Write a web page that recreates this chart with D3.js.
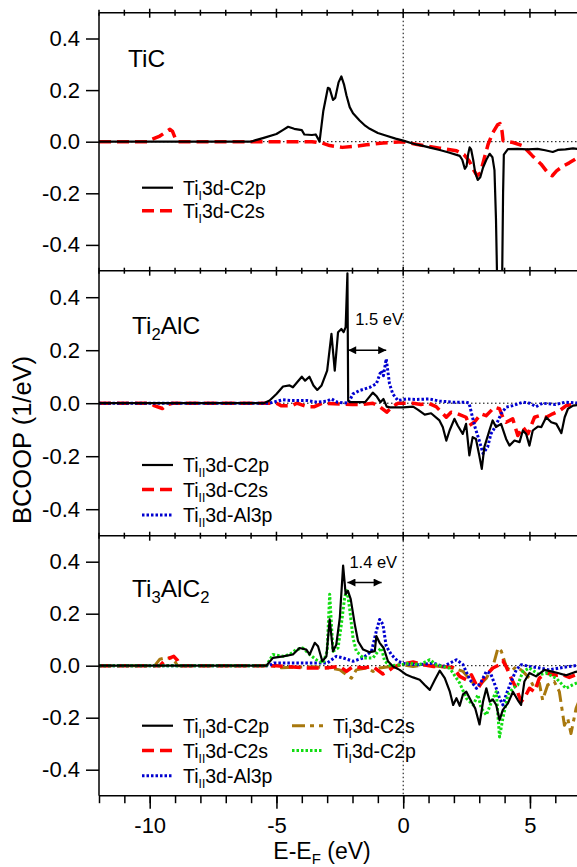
<!DOCTYPE html>
<html><head><meta charset="utf-8">
<script src="https://cdn.jsdelivr.net/npm/d3@7"></script>
<style>body{margin:0;background:#fff} text{font-family:"Liberation Sans",Arial,Helvetica,sans-serif;fill:#000}</style>
</head><body><svg id="c" width="577" height="867"></svg>
<script>
// ---------- data ----------
const xMajorTicks = [-10, -5, 0, 5];
const xMinorTicks = [-12,-11,-10,-9,-8,-7,-6,-5,-4,-3,-2,-1,0,1,2,3,4,5,6,7];
const yTicks = [-0.4, -0.2, 0.0, 0.2, 0.4];

// Panel 1: TiC
const tic_TiI3d_C2p = [[-12,0],[-6.0,0],[-5.85,0.005],[-5.5,0.015],[-5.0,0.03],[-4.75,0.045],[-4.54,0.058],[-4.3,0.05],[-4.0,0.045],[-3.9,0.028],[-3.6,0.026],[-3.45,0.028],[-3.36,0.012],[-3.3,0.0],[-3.15,0.12],[-2.97,0.209],[-2.9,0.205],[-2.77,0.162],[-2.68,0.17],[-2.55,0.23],[-2.44,0.253],[-2.33,0.22],[-2.24,0.18],[-2.11,0.134],[-1.98,0.11],[-1.72,0.082],[-1.5,0.062],[-1.32,0.05],[-1.0,0.034],[-0.66,0.023],[-0.3,0.012],[0,0.004],[0.4,-0.008],[0.78,-0.016],[1.1,-0.024],[1.44,-0.032],[1.8,-0.042],[2.23,-0.055],[2.33,-0.07],[2.43,-0.105],[2.5,-0.095],[2.56,-0.05],[2.62,-0.022],[2.68,-0.03],[2.76,-0.07],[2.84,-0.12],[2.94,-0.148],[3.04,-0.138],[3.15,-0.1],[3.28,-0.07],[3.41,-0.047],[3.52,-0.06],[3.6,-0.11],[3.66,-0.3],[3.71,-0.56],[3.9,-0.56],[3.94,-0.2],[3.97,-0.05],[4.13,-0.029],[4.5,-0.028],[4.9,-0.03],[5.3,-0.028],[5.6,-0.033],[5.9,-0.04],[6.1,-0.032],[6.4,-0.03],[6.7,-0.026],[7,-0.03]];
const tic_TiI3d_C2s = [[-12,0],[-10.1,0],[-9.9,0.01],[-9.6,0.022],[-9.4,0.035],[-9.2,0.048],[-9.1,0.04],[-9.0,0.015],[-8.9,0],[-3.6,0],[-3.2,-0.005],[-2.9,-0.015],[-2.4,-0.022],[-1.9,-0.018],[-1.45,-0.012],[-0.8,-0.005],[0,0],[0.5,-0.01],[0.91,-0.017],[1.44,-0.025],[2.1,-0.035],[2.4,-0.05],[2.6,-0.074],[2.78,-0.11],[2.92,-0.132],[3.05,-0.12],[3.21,-0.06],[3.35,-0.01],[3.54,0.036],[3.72,0.065],[3.82,0.07],[3.9,0.04],[3.94,0.004],[4.33,-0.003],[4.72,-0.016],[5.1,-0.055],[5.44,-0.087],[5.7,-0.12],[5.88,-0.132],[6.05,-0.113],[6.3,-0.095],[6.55,-0.082],[6.8,-0.067],[7,-0.06]];

// Panel 2: Ti2AlC
const ti2_TiII3d_C2p = [[-12,0],[-5.5,0],[-5.27,0.01],[-5.0,0.035],[-4.74,0.063],[-4.48,0.067],[-4.35,0.06],[-4.0,0.1],[-3.87,0.085],[-3.7,0.1],[-3.54,0.067],[-3.39,0.05],[-3.22,0.067],[-3.0,0.123],[-2.83,0.262],[-2.7,0.123],[-2.57,0.268],[-2.44,0.28],[-2.35,0.268],[-2.27,0.287],[-2.2,0.49],[-2.17,0.01],[-2.1,0.004],[-1.5,0.004],[-1.2,0.04],[-1.04,0.025],[-0.9,0.004],[-0.78,0.016],[-0.65,-0.013],[-0.52,-0.016],[-0.26,-0.016],[0,-0.016],[0.39,-0.013],[0.59,-0.025],[0.85,-0.043],[1.1,-0.038],[1.43,-0.065],[1.56,-0.09],[1.7,-0.141],[1.83,-0.103],[2.02,-0.059],[2.15,-0.084],[2.35,-0.116],[2.48,-0.078],[2.61,-0.197],[2.74,-0.128],[2.87,-0.135],[3.0,-0.197],[3.1,-0.248],[3.2,-0.166],[3.4,-0.103],[3.53,-0.065],[3.66,-0.09],[3.86,-0.078],[4.06,-0.135],[4.19,-0.16],[4.39,-0.141],[4.59,-0.147],[4.72,-0.103],[4.85,-0.116],[4.98,-0.16],[5.11,-0.103],[5.31,-0.088],[5.45,-0.09],[5.64,-0.053],[5.84,-0.072],[6.04,-0.078],[6.24,-0.113],[6.37,-0.053],[6.5,-0.021],[6.7,-0.009],[7,-0.005]];
const ti2_TiII3d_C2s = [[-12,0],[-10,0],[-9.8,-0.01],[-9.5,-0.02],[-9.3,-0.005],[-9.1,0],[-5,0],[-4.8,-0.01],[-4.4,-0.01],[-4.2,0],[-3.8,-0.013],[-3.5,-0.013],[-3.2,0],[-2.0,-0.005],[-1.6,-0.005],[-1.2,0],[-0.9,-0.015],[-0.65,-0.034],[-0.46,-0.015],[-0.2,0],[0.39,0],[0.7,-0.005],[1.0,0],[1.3,-0.013],[1.7,-0.053],[1.89,-0.034],[2.15,-0.04],[2.48,-0.053],[2.61,-0.084],[2.8,-0.072],[3.07,-0.04],[3.27,-0.047],[3.6,-0.015],[3.8,-0.021],[3.93,-0.053],[4.06,-0.072],[4.32,-0.059],[4.52,-0.122],[4.72,-0.09],[4.92,-0.116],[5.18,-0.053],[5.38,-0.047],[5.64,-0.053],[5.9,-0.04],[6.17,-0.028],[6.43,-0.009],[7,0]];
const ti2_TiII3d_Al3p = [[-12,0],[-5.3,0],[-4.74,0.013],[-4.4,0.01],[-4.0,0.01],[-3.8,0.01],[-3.4,0.004],[-3.0,0.008],[-2.83,0.016],[-2.6,0.004],[-2.17,0],[-1.98,0.035],[-1.72,0.048],[-1.32,0.06],[-1.06,0.073],[-0.87,0.123],[-0.78,0.104],[-0.67,0.167],[-0.54,0.073],[-0.41,0.035],[-0.21,0.01],[0.13,0.016],[0.5,0.014],[1.04,0.016],[1.43,0.008],[1.96,0.004],[2.48,0.004],[2.6,0],[2.7,-0.04],[2.83,-0.09],[3.0,-0.141],[3.15,-0.19],[3.33,-0.166],[3.46,-0.116],[3.66,-0.084],[3.86,-0.04],[4.06,-0.015],[4.32,-0.009],[4.72,0.004],[5.0,0],[5.24,-0.013],[5.5,0],[6.0,-0.005],[6.4,0.004],[7,0]];

// Panel 3: Ti3AlC2
const ti3_TiII3d_C2p = [[-12,0],[-5.4,0],[-5.14,0.03],[-4.74,0.036],[-4.35,0.043],[-4.09,0.068],[-3.82,0.062],[-3.69,0.043],[-3.49,0.088],[-3.36,0.075],[-3.19,0.017],[-3.03,0.036],[-2.9,0.178],[-2.77,0.056],[-2.64,0.081],[-2.5,0.185],[-2.37,0.385],[-2.27,0.275],[-2.18,0.288],[-2.07,0.256],[-1.91,0.159],[-1.78,0.094],[-1.58,0.062],[-1.32,0.052],[-1.12,0.056],[-1.06,0.114],[-0.93,0.088],[-0.77,0.068],[-0.6,0.017],[-0.4,-0.003],[-0.14,-0.016],[0.13,-0.035],[0.39,-0.045],[0.65,-0.054],[0.85,-0.074],[1.05,-0.093],[1.25,-0.054],[1.44,-0.019],[1.64,-0.048],[1.84,-0.1],[1.97,-0.151],[2.1,-0.125],[2.23,-0.154],[2.36,-0.11],[2.49,-0.1],[2.69,-0.138],[2.84,-0.164],[3.01,-0.226],[3.15,-0.138],[3.28,-0.087],[3.41,-0.138],[3.54,-0.13],[3.67,-0.151],[3.8,-0.209],[3.93,-0.17],[4.13,-0.145],[4.33,-0.1],[4.52,-0.132],[4.65,-0.151],[4.78,-0.061],[4.98,-0.028],[5.24,-0.041],[5.57,-0.016],[5.83,-0.022],[6.1,-0.028],[6.43,-0.037],[6.76,-0.025],[7,-0.02]];
const ti3_TiII3d_C2s = [[-12,0],[-9.6,0],[-9.4,0.02],[-9.2,0.03],[-9.05,0.036],[-8.9,0.02],[-8.8,0],[-5,0],[-4.5,-0.004],[-3.82,-0.009],[-3.1,-0.009],[-2.5,-0.003],[-2.24,-0.022],[-1.98,-0.003],[-1.58,-0.009],[-1.2,-0.003],[-0.8,-0.032],[-0.6,-0.022],[-0.4,-0.006],[-0.1,0.004],[0.39,0.014],[0.78,0.004],[1.2,-0.003],[1.57,-0.003],[1.97,-0.007],[2.23,-0.041],[2.49,-0.054],[2.69,-0.035],[2.95,-0.087],[3.28,-0.035],[3.54,-0.009],[3.8,0.004],[3.93,0.019],[4.06,-0.003],[4.26,-0.048],[4.46,-0.087],[4.65,-0.138],[4.78,-0.125],[4.98,-0.087],[5.18,-0.1],[5.37,-0.048],[5.63,-0.028],[6.03,-0.037],[6.29,-0.035],[6.55,-0.045],[6.8,-0.035],[7,-0.03]];
const ti3_TiII3d_Al3p = [[-12,0],[-5.3,0],[-5.1,0.01],[-3.0,0.01],[-2.9,0.017],[-2.64,0.036],[-2.37,0.03],[-1.98,0.017],[-1.58,0.03],[-1.25,0.056],[-1.06,0.133],[-0.93,0.178],[-0.8,0.159],[-0.67,0.075],[-0.47,0.043],[-0.21,0.017],[0.1,0.006],[0.65,0.004],[1.18,0.01],[1.57,-0.003],[1.84,0.01],[2.1,0.023],[2.36,0.004],[2.63,-0.054],[2.89,-0.087],[3.08,-0.061],[3.28,-0.022],[3.45,-0.03],[3.67,-0.087],[3.8,-0.125],[3.93,-0.151],[4.06,-0.112],[4.26,-0.061],[4.46,-0.016],[4.65,0.004],[5.0,-0.003],[5.37,-0.009],[5.76,-0.016],[6.16,-0.009],[6.55,-0.003],[7,0.003]];
const ti3_TiI3d_C2s = [[-12,0],[-9.8,0],[-9.6,0.025],[-9.4,0.03],[-9.1,0.03],[-9.0,0.015],[-8.9,0],[-5.2,0],[-4.8,-0.008],[-4.3,-0.006],[-3.5,-0.004],[-2.9,-0.009],[-2.5,-0.016],[-2.24,-0.035],[-2.04,-0.048],[-1.85,-0.016],[-1.45,-0.009],[-1.19,-0.022],[-0.93,-0.009],[-0.5,-0.003],[-0.1,0.004],[0.39,-0.003],[0.9,0.004],[1.44,-0.003],[1.97,-0.009],[2.36,-0.022],[2.76,-0.067],[3.02,-0.074],[3.28,-0.048],[3.54,-0.003],[3.74,0.068],[3.87,0.056],[4.06,-0.003],[4.26,-0.022],[4.46,-0.003],[4.72,-0.022],[4.98,-0.048],[5.18,-0.087],[5.37,-0.067],[5.5,-0.132],[5.7,-0.074],[5.96,-0.061],[6.16,-0.1],[6.36,-0.229],[6.49,-0.203],[6.62,-0.261],[6.82,-0.164],[7,-0.12]];
const ti3_TiI3d_C2p = [[-12,0],[-5.4,0],[-5.14,0.043],[-4.74,0.036],[-4.48,0.043],[-4.22,0.062],[-3.96,0.068],[-3.69,0.043],[-3.43,0.023],[-3.16,0.01],[-3.0,0.056],[-2.9,0.275],[-2.77,0.056],[-2.57,0.068],[-2.44,0.159],[-2.31,0.262],[-2.22,0.295],[-2.11,0.217],[-1.98,0.107],[-1.85,0.056],[-1.58,0.03],[-1.19,0.03],[-0.99,0.056],[-0.86,0.068],[-0.73,0.017],[-0.5,0],[-0.1,0.003],[0.26,0.01],[0.65,0.004],[1.05,0.023],[1.3,0.004],[1.57,-0.003],[1.84,-0.01],[2.23,-0.067],[2.49,-0.125],[2.76,-0.151],[2.95,-0.112],[3.08,-0.164],[3.28,-0.19],[3.54,-0.125],[3.67,-0.1],[3.8,-0.274],[3.93,-0.203],[4.13,-0.112],[4.33,-0.087],[4.52,-0.074],[4.72,-0.022],[4.98,-0.009],[5.37,-0.035],[5.63,-0.028],[6.03,-0.048],[6.42,-0.087],[6.68,-0.074],[7,-0.06]];

// annotations: [x1, x2, yArrow, label]
const gap2 = [-2.17, -0.67, 0.2, "1.5 eV"];
const gap3 = [-2.2, -0.85, 0.32, "1.4 eV"];

// ---------- styles ----------
const ST = {
  blackSolid: {color:"#000", w:2.2, dash:null},
  redDash:   {color:"#ff0000", w:3.5, dash:"12,6"},
  blueDot:   {color:"#0000d0", w:3, dash:"2.5,2"},
  brownDD:   {color:"#a8780e", w:3, dash:"13,5,4,5"},
  greenDot:  {color:"#11dd11", w:3, dash:"2.5,2"}
};

const panels = [
  { title:[["Ti",0],["C",0]], tx:128, tb:66.7,
    series:[
      {data:tic_TiI3d_C2s, st:ST.redDash},
      {data:tic_TiI3d_C2p, st:ST.blackSolid}],
    legend:[
      {st:ST.blackSolid, lab:["Ti","I","3d-C2p"], col:0, row:0},
      {st:ST.redDash, lab:["Ti","I","3d-C2s"], col:0, row:1}],
    legY:[187.7,210.7] },
  { title:[["Ti",0],["2",1],["AlC",0]], tx:132, tb:334,
    series:[
      {data:ti2_TiII3d_C2s, st:ST.redDash},
      {data:ti2_TiII3d_Al3p, st:ST.blueDot},
      {data:ti2_TiII3d_C2p, st:ST.blackSolid}],
    legend:[
      {st:ST.blackSolid, lab:["Ti","II","3d-C2p"], col:0, row:0},
      {st:ST.redDash, lab:["Ti","II","3d-C2s"], col:0, row:1},
      {st:ST.blueDot, lab:["Ti","II","3d-Al3p"], col:0, row:2}],
    legY:[465,489.5,515], gap:gap2, gapDx:7, gapDy:-25 },
  { title:[["Ti",0],["3",1],["AlC",0],["2",1]], tx:132, tb:596.5,
    series:[
      {data:ti3_TiI3d_C2s, st:ST.brownDD},
      {data:ti3_TiII3d_C2s, st:ST.redDash},
      {data:ti3_TiII3d_Al3p, st:ST.blueDot},
      {data:ti3_TiI3d_C2p, st:ST.greenDot},
      {data:ti3_TiII3d_C2p, st:ST.blackSolid}],
    legend:[
      {st:ST.blackSolid, lab:["Ti","II","3d-C2p"], col:0, row:0},
      {st:ST.redDash, lab:["Ti","II","3d-C2s"], col:0, row:1},
      {st:ST.blueDot, lab:["Ti","II","3d-Al3p"], col:0, row:2},
      {st:ST.brownDD, lab:["Ti","I","3d-C2s"], col:1, row:0},
      {st:ST.greenDot, lab:["Ti","I","3d-C2p"], col:1, row:1}],
    legY:[725.7,750.5,775.7], gap:gap3, gapDx:2, gapDy:-15 }
];

// ---------- layout ----------
const svg = d3.select("#c");
const L = 99, R = 580.65;
const x = d3.scaleLinear().domain([-12, 7]).range([L, R]);
const pTop = [12.7, 270.7, 535.7], pBot = [270.7, 535.7, 795.7];
const ys = pTop.map((t,i) => d3.scaleLinear().domain([-0.5, 0.5]).range([pBot[i], t]));

const defs = svg.append("defs");
defs.append("marker").attr("id","ah").attr("viewBox","0 0 10 10").attr("refX",10).attr("refY",5)
  .attr("markerWidth",10).attr("markerHeight",8).attr("markerUnits","userSpaceOnUse").attr("orient","auto-start-reverse")
  .append("path").attr("d","M0,0 L10,5 L0,10 z").attr("fill","#000");

const TICKFS = 22, LEGFS = 19.5, TITLEFS = 24.5;

panels.forEach((p, i) => {
  const y = ys[i];
  const g = svg.append("g");
  const cid = "clip" + i;
  defs.append("clipPath").attr("id", cid).append("rect")
    .attr("x", L).attr("y", pTop[i]).attr("width", R - L).attr("height", pBot[i] - pTop[i]);

  // zero dotted line
  g.append("line").attr("x1", L).attr("x2", R).attr("y1", y(0)).attr("y2", y(0))
    .attr("stroke", "#000").attr("stroke-width", 1).attr("stroke-dasharray", "1.5,2.5");

  // series
  const line = d3.line().x(d => x(d[0])).y(d => y(d[1]));
  const sg = g.append("g").attr("clip-path", `url(#${cid})`);
  p.series.forEach(s => {
    sg.append("path").attr("d", line(s.data)).attr("fill", "none")
      .attr("stroke", s.st.color).attr("stroke-width", s.st.w)
      .attr("stroke-linejoin", "round")
      .attr("stroke-dasharray", s.st.dash);
  });

  // left axis
  const ax = g.append("g").attr("transform", `translate(${L},0)`)
    .call(d3.axisLeft(y).tickValues(yTicks).tickSize(13).tickSizeOuter(0).tickPadding(6)
      .tickFormat(d => d.toFixed(1)));
  ax.select(".domain").remove();
  ax.selectAll("line").attr("stroke-width", 1.5);
  ax.selectAll("text").attr("font-size", TICKFS).attr("font-family", null);

  // title
  const t = g.append("text").attr("x", p.tx).attr("y", p.tb).attr("font-size", TITLEFS);
  p.title.forEach(([s, sub], k) => {
    const prev = k > 0 ? p.title[k-1][1] : 0;
    const ts = t.append("tspan").text(s);
    if (sub && !prev) ts.attr("dy", 6).attr("font-size", TITLEFS * 0.68);
    else if (!sub && prev) ts.attr("dy", -6);
  });

  // legend
  p.legend.forEach(e => {
    const ly = p.legY[e.row];
    const x0 = e.col === 0 ? 142 : 292;
    g.append("line").attr("x1", x0).attr("x2", x0 + 31).attr("y1", ly).attr("y2", ly)
      .attr("stroke", e.st.color).attr("stroke-width", e.st.w).attr("stroke-dasharray", e.st.dash);
    const tx = g.append("text").attr("x", x0 + 41).attr("y", ly + 7).attr("font-size", LEGFS);
    tx.append("tspan").text(e.lab[0]);
    tx.append("tspan").text(e.lab[1]).attr("dy", 5).attr("font-size", LEGFS * 0.62);
    tx.append("tspan").text(e.lab[2]).attr("dy", -5);
  });

  // gap annotation
  if (p.gap) {
    const [a, b, yy, lab] = p.gap;
    g.append("line").attr("x1", x(a)).attr("x2", x(b)).attr("y1", y(yy)).attr("y2", y(yy))
      .attr("stroke", "#000").attr("stroke-width", 1.5)
      .attr("marker-start", "url(#ah)").attr("marker-end", "url(#ah)");
    g.append("text").attr("x", x(a) + p.gapDx).attr("y", y(yy) + p.gapDy).attr("font-size", 16.5).text(lab);
  }
});

// vertical dotted line at E_F
svg.append("line").attr("x1", x(0)).attr("x2", x(0)).attr("y1", pTop[0]).attr("y2", pBot[2])
  .attr("stroke", "#000").attr("stroke-width", 1).attr("stroke-dasharray", "1.5,2.5");

// frame
const fr = svg.append("g").attr("stroke", "#000").attr("stroke-width", 1.5);
fr.append("line").attr("x1", L).attr("x2", L).attr("y1", pTop[0]).attr("y2", pBot[2]);
fr.append("line").attr("x1", R).attr("x2", R).attr("y1", pTop[0]).attr("y2", pBot[2]);
[pTop[0], pTop[1], pTop[2], pBot[2]].forEach(yy =>
  fr.append("line").attr("x1", L).attr("x2", R).attr("y1", yy).attr("y2", yy));

// crossing ticks on top / inter-panel boundaries
[pTop[0], pTop[1], pTop[2]].forEach(yy => {
  xMinorTicks.forEach(v => {
    const maj = xMajorTicks.includes(v);
    fr.append("line").attr("x1", x(v)).attr("x2", x(v))
      .attr("y1", yy - (maj ? 4 : 3)).attr("y2", yy + (maj ? 5 : 3));
  });
});

// bottom axis
const bx = svg.append("g").attr("transform", `translate(0,${pBot[2]})`);
bx.call(d3.axisBottom(x).tickValues(xMinorTicks).tickSize(7.5).tickSizeOuter(0).tickFormat(""));
const bxM = svg.append("g").attr("transform", `translate(0,${pBot[2]})`)
  .call(d3.axisBottom(x).tickValues(xMajorTicks).tickSize(13).tickSizeOuter(0).tickPadding(9).tickFormat(d => String(d)));
[bx, bxM].forEach(a => { a.select(".domain").remove(); a.selectAll("line").attr("stroke-width", 1.5); });
bxM.selectAll("text").attr("font-size", TICKFS).attr("font-family", null);

// axis titles
const xt = svg.append("text").attr("x", 322).attr("y", 859).attr("text-anchor", "middle").attr("font-size", 23);
xt.append("tspan").text("E-E");
xt.append("tspan").text("F").attr("dy", 5).attr("font-size", 15);
xt.append("tspan").text(" (eV)").attr("dy", -5);

svg.append("text").attr("transform", "translate(31,440) rotate(-90)").attr("text-anchor", "middle")
  .attr("font-size", 25.5).text("BCOOP (1/eV)");
</script></body></html>
